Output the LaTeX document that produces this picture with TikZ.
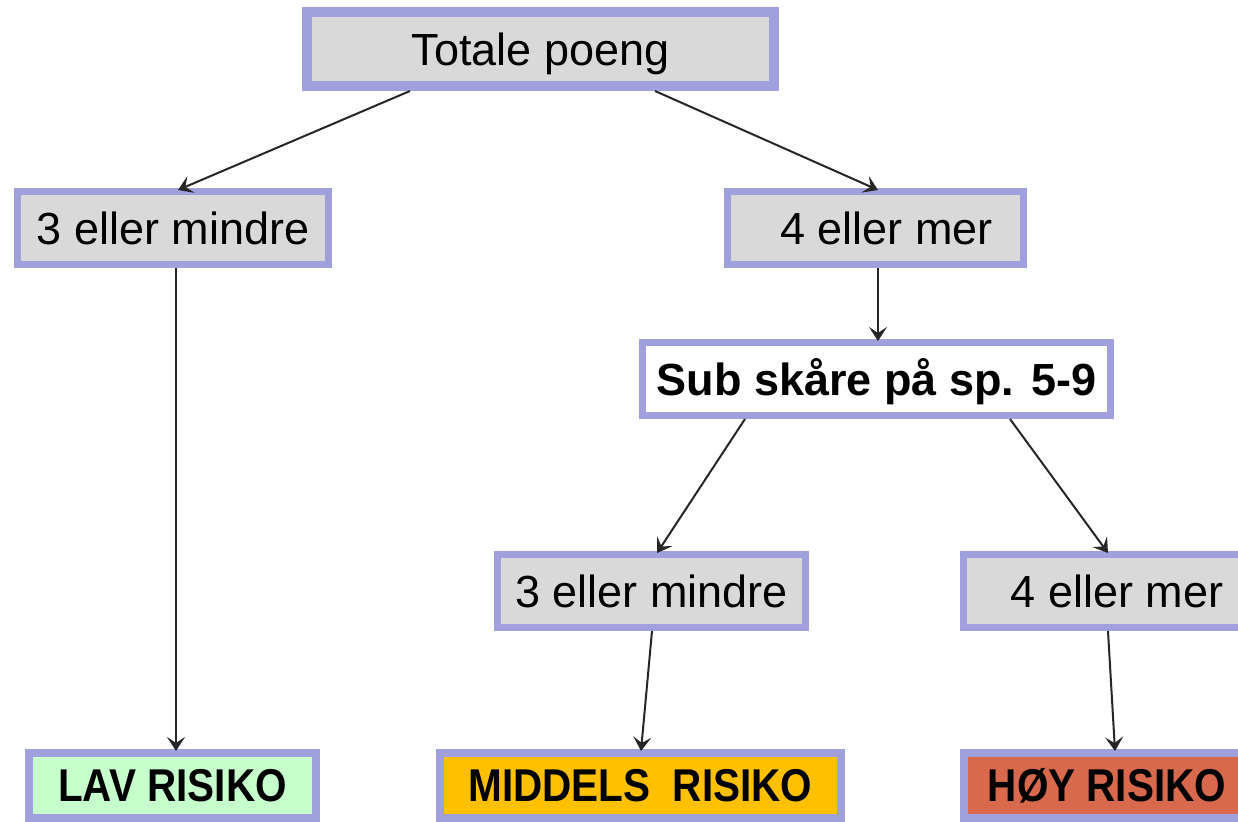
\documentclass[tikz,border=0pt]{standalone}
\usepackage{fontspec}
\setmainfont{Liberation Sans}
\usepackage{graphicx}
\usetikzlibrary{arrows.meta,calc}
\definecolor{bordc}{RGB}{160,160,220}
\definecolor{boxgray}{RGB}{217,217,217}
\definecolor{lavgreen}{RGB}{198,255,204}
\definecolor{midorange}{RGB}{255,192,0}
\definecolor{hoyred}{RGB}{216,105,76}
\tikzset{
  box/.style={draw=bordc, line width=3.5pt, fill=boxgray, inner sep=0pt,
    minimum height=36.5pt, text height=16.1pt, text depth=0pt,
    font=\fontsize{22.5pt}{27pt}\selectfont, text=black},
  topbox/.style={box, line width=5pt, minimum width=233.5pt, minimum height=37pt},
  subbox/.style={box, fill=white, font=\fontsize{22.5pt}{27pt}\selectfont\bfseries},
  riskbox/.style={draw=bordc, line width=4pt, inner sep=0pt, minimum height=32.5pt,
    text height=16.5pt, text depth=0pt,
    font=\fontsize{23pt}{27pt}\selectfont\bfseries, text=black},
  arr/.style={draw=black!85, line width=1pt, -{Stealth[length=7pt,width=9pt,inset=3pt]}}
}
\begin{document}
\begin{tikzpicture}[x=0.5pt,y=-0.5pt]
\useasboundingbox (0,0) rectangle (1238,822);
\clip (0,0) rectangle (1238,822);
\fill[white] (0,0) rectangle (1238,822);
\node[topbox] (top) at (540.5,49) {Totale poeng};
\node[box, minimum width=155.5pt] (L1) at (173,228) {3 eller mindre};
\node[box, minimum width=148pt] (R1) at (875.5,228) {\hspace{11pt}4 eller mer};
\node[subbox, minimum width=234pt] (sub) at (876.5,379) {Sub skåre på sp. 5-9};
\node[box, minimum width=154pt] (M2) at (651.5,591) {3 eller mindre};
\node[box, minimum width=153.5pt] (R2) at (1117,591) {4 eller mer};
\node[riskbox, fill=lavgreen, minimum width=143.5pt] (lav) at (172.5,785.5) {\scalebox{0.88}[1]{LAV RISIKO}};
\node[riskbox, fill=midorange, minimum width=200.5pt] (mid) at (640.5,785.5) {\scalebox{0.88}[1]{MIDDELS\hspace{0.55em}RISIKO}\hspace{10pt}};
\node[riskbox, fill=hoyred, minimum width=143pt] (hoy) at (1107,785.5) {\scalebox{0.88}[1]{HØY RISIKO}};
\draw[arr] ($(top.south)+(-130.5,0)$) -- ($(L1.north)+(5,2)$);
\draw[arr] ($(top.south)+(114.5,0)$) -- ($(R1.north)+(2.5,2)$);
\draw[arr] ($(L1.south)+(3,0)$) -- ($(lav.north)+(3.5,2)$);
\draw[arr] ($(R1.south)+(2.5,0)$) -- ($(sub.north)+(1.5,2)$);
\draw[arr] ($(sub.south)+(-131.5,0)$) -- ($(M2.north)+(5.5,2)$);
\draw[arr] ($(sub.south)+(133.5,0)$) -- ($(R2.north)+(-9,2)$);
\draw[arr] ($(M2.south)+(0.5,0)$) -- ($(mid.north)+(0.5,2)$);
\draw[arr] ($(R2.south)+(-9,0)$) -- ($(hoy.north)+(8,2)$);
\end{tikzpicture}
\end{document}
